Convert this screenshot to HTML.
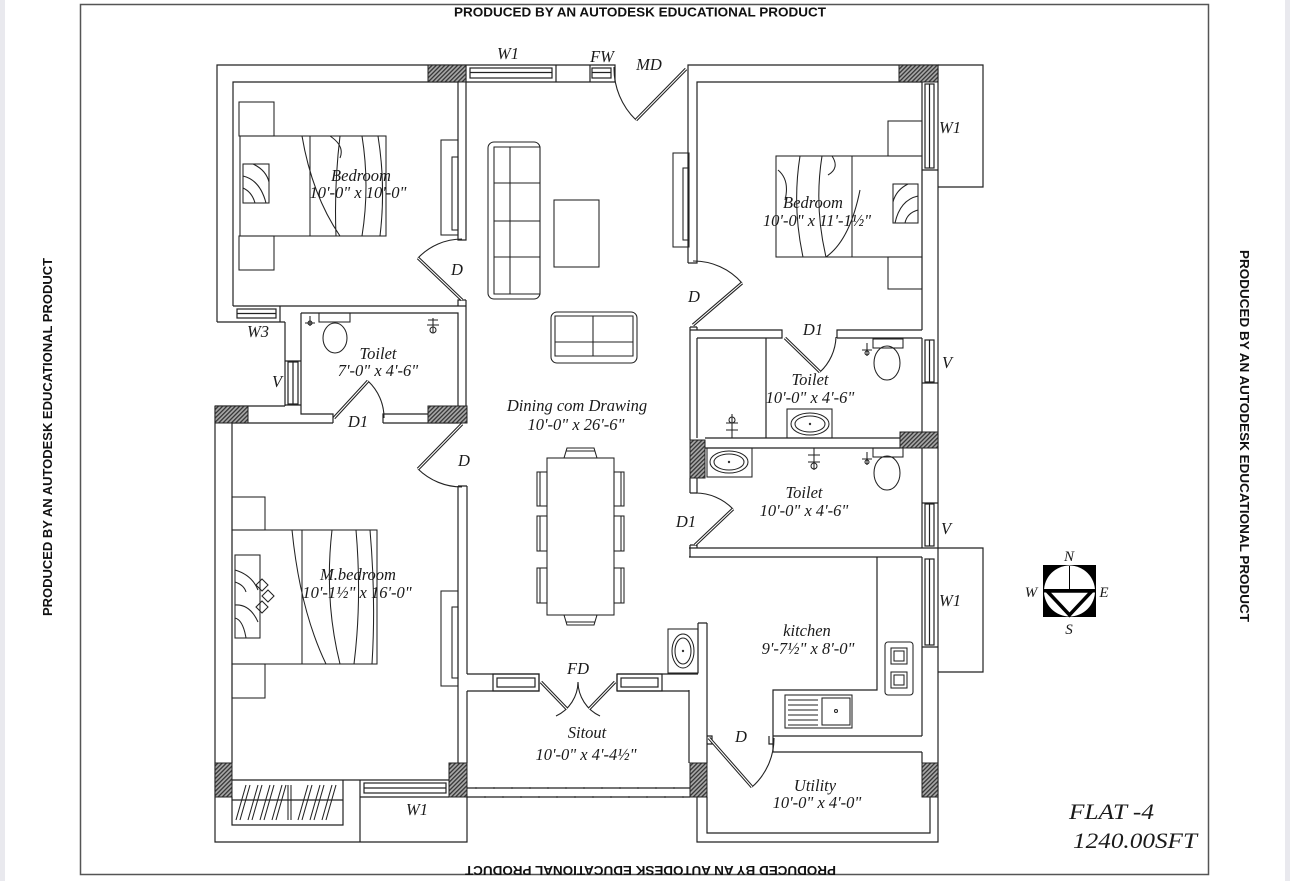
<!DOCTYPE html>
<html><head><meta charset="utf-8"><style>
html,body{margin:0;padding:0;background:#fff;}
svg{display:block;}
.t{font-family:"Liberation Serif",serif;font-style:italic;font-size:16.5px;fill:#1a1a1a;}
.s{font-family:"Liberation Sans",sans-serif;font-weight:bold;font-size:13px;fill:#111;}
</style></head><body>
<svg width="1290" height="881" viewBox="0 0 1290 881" xmlns="http://www.w3.org/2000/svg">
<defs>
<pattern id="h" patternUnits="userSpaceOnUse" width="3" height="3" patternTransform="rotate(45)">
<rect width="3" height="3" fill="#a8a8a8"/><line x1="0.7" y1="0" x2="0.7" y2="3" stroke="#2a2a2a" stroke-width="1.2"/>
</pattern>
</defs>
<rect width="1290" height="881" fill="#fff"/>
<rect x="0" y="0" width="5" height="881" fill="#e9e9ee"/>
<rect x="1285" y="0" width="5" height="881" fill="#e9e9ee"/>
<rect x="80.5" y="4.5" width="1128" height="870" fill="none" stroke="#555" stroke-width="1.5"/>

<g stroke="#222" stroke-width="1.2" fill="none">
<path d="M217,322V65H615V82"/>
<path d="M233,306V82H458V240H466V82H615"/>
<path d="M458,306V300H466"/>
<path d="M466,300V406"/>
<path d="M233,306H466"/>
<rect x="470" y="68" width="82" height="10"/><path d="M470,72.5H552M466,65V82M556,65V82"/>
<rect x="592" y="68" width="19" height="10"/><path d="M592,72.5H611M590,65V82"/>
<rect x="237" y="309" width="39" height="9"/><path d="M237,313.5H276M280,306V322M217,322H285"/>
<path d="M285,322V406"/>
<path d="M301,313V414H333V423M383,423V414H428"/>
<path d="M301,313H458V406"/>
<rect x="288" y="362" width="10" height="42"/><path d="M293,362V404M285,361H301M285,405H301"/>
<path d="M215,406H285"/>
<path d="M232,423H333M383,423H458"/>
<path d="M215,406V842H467V797"/>
<path d="M232,423V763"/>
<path d="M458,486V763M467,486V674M458,486H467"/>
<path d="M467,691V763"/>
<path d="M232,797V825H343V780M232,780H449M232,800H343"/>
<rect x="364" y="783" width="82" height="10"/><path d="M364,788H446M360,797H449M360,780V842"/>
<path d="M467,674H539V691H467M617,674H698M617,691H689M617,674V691"/>
<rect x="493" y="674" width="46" height="17"/><rect x="497" y="678" width="38" height="9"/>
<rect x="617" y="674" width="45" height="17"/><rect x="621" y="678" width="37" height="9"/>
<path d="M467,788H690M467,797H690"/>
<path d="M688,263V65H938V797"/>
<path d="M688,263H697V82H922V330"/>
<path d="M690,327H697M690,327V440M697,327V330"/>
<path d="M690,330H782V338H697M837,338V330H922M837,338H922"/>
<path d="M697,338V438M922,338V438M766,338V438"/>
<path d="M705,438H900M705,448H900"/>
<path d="M697,478V493M690,478V493M690,493H697M690,545H697M690,545V557M697,545V548"/>
<path d="M922,448V548M689,548H938M689,557H922"/>
<path d="M922,557V736M877,557V690H773V752M773,736H922M773,752H922M922,752V763"/>
<path d="M707,623V763M698,623V673M698,623H707M689,690V763"/>
<path d="M707,736H712V744H707M773,744H769V736"/>
<path d="M697,797V842H938V797M707,797V833H930V797"/>
<path d="M938,65H983V187H938M938,548H983V672H938"/>
<rect x="925" y="84" width="9" height="84"/><path d="M929.5,84V168M922,170H938"/>
<rect x="925" y="340" width="9" height="42"/><path d="M929.5,340V382M922,383H938"/>
<rect x="925" y="504" width="9" height="42"/><path d="M929.5,504V546M922,503H938"/>
<rect x="925" y="559" width="9" height="86"/><path d="M929.5,559V645M922,647H938"/>
</g>

<g fill="url(#h)" stroke="#222" stroke-width="1">
<rect x="428" y="65" width="38" height="17"/>
<rect x="899" y="65" width="39" height="17"/>
<rect x="215" y="406" width="33" height="17"/>
<rect x="428" y="406" width="39" height="17"/>
<rect x="900" y="432" width="38" height="16"/>
<rect x="690" y="440" width="15" height="38"/>
<rect x="215" y="763" width="17" height="34"/>
<rect x="449" y="763" width="18" height="34"/>
<rect x="690" y="763" width="17" height="34"/>
<rect x="922" y="763" width="16" height="34"/>
</g>

<g fill="#444">
<circle cx="476" cy="788" r="1"/><circle cx="485" cy="797" r="1"/><circle cx="494" cy="788" r="1"/><circle cx="503" cy="797" r="1"/><circle cx="512" cy="788" r="1"/><circle cx="521" cy="797" r="1"/><circle cx="530" cy="788" r="1"/><circle cx="539" cy="797" r="1"/><circle cx="548" cy="788" r="1"/><circle cx="557" cy="797" r="1"/><circle cx="566" cy="788" r="1"/><circle cx="575" cy="797" r="1"/><circle cx="584" cy="788" r="1"/><circle cx="593" cy="797" r="1"/><circle cx="602" cy="788" r="1"/><circle cx="611" cy="797" r="1"/><circle cx="620" cy="788" r="1"/><circle cx="629" cy="797" r="1"/><circle cx="638" cy="788" r="1"/><circle cx="647" cy="797" r="1"/><circle cx="656" cy="788" r="1"/><circle cx="665" cy="797" r="1"/><circle cx="674" cy="788" r="1"/><circle cx="683" cy="797" r="1"/>
</g>

<g fill="none" stroke="#222" stroke-width="1.1">
<path d="M636,120A72,72 0 0 1 614,67"/>
<path d="M418,258A61,61 0 0 1 462,239"/>
<path d="M742,283A64,64 0 0 0 693,261"/>
<path d="M820,372A50,50 0 0 0 836,337"/>
<path d="M368,381A50,50 0 0 1 384,418"/>
<path d="M418,469A63,63 0 0 0 462,487"/>
<path d="M578,682A38,38 0 0 1 556,716"/>
<path d="M578,682A38,38 0 0 0 600,716"/>
<path d="M752,787A65,65 0 0 0 774,738"/>
<path d="M733,509A52,52 0 0 0 695,493"/>
</g>
<g stroke="#222" stroke-width="3.2" stroke-linecap="butt">
<line x1="686" y1="69" x2="636" y2="120"/>
<line x1="462" y1="300" x2="418" y2="258"/>
<line x1="693" y1="325" x2="742" y2="283"/>
<line x1="785" y1="338" x2="820" y2="372"/>
<line x1="334" y1="418" x2="368" y2="381"/>
<line x1="462" y1="424" x2="418" y2="469"/>
<line x1="541" y1="682" x2="567" y2="709"/>
<line x1="615" y1="682" x2="589" y2="709"/>
<line x1="709" y1="738" x2="752" y2="787"/>
<line x1="695" y1="545" x2="733" y2="509"/>
</g>
<g stroke="#fff" stroke-width="1.1">
<line x1="686" y1="69" x2="636" y2="120"/>
<line x1="462" y1="300" x2="418" y2="258"/>
<line x1="693" y1="325" x2="742" y2="283"/>
<line x1="785" y1="338" x2="820" y2="372"/>
<line x1="334" y1="418" x2="368" y2="381"/>
<line x1="462" y1="424" x2="418" y2="469"/>
<line x1="541" y1="682" x2="567" y2="709"/>
<line x1="615" y1="682" x2="589" y2="709"/>
<line x1="709" y1="738" x2="752" y2="787"/>
<line x1="695" y1="545" x2="733" y2="509"/>
</g>

<g fill="none" stroke="#222" stroke-width="1.05">
<rect x="239" y="102" width="35" height="34"/><rect x="239" y="236" width="35" height="34"/>
<rect x="240" y="136" width="146" height="100"/>
<rect x="243" y="164" width="26" height="39"/>
<path d="M243,176Q260,180 266,203M243,188Q252,192 255,203M253,164Q266,170 269,182"/>
<line x1="310" y1="136" x2="310" y2="236"/>
<path d="M302,136Q312,195 340,236M340,136Q334,186 336,236M362,136Q370,186 362,236M378,136Q386,186 380,236M330,136Q345,146 340,158"/>
<rect x="441" y="140" width="17" height="95"/><rect x="452" y="157" width="6" height="73"/>
<rect x="488" y="142" width="52" height="157" rx="6"/>
<path d="M494,147H540V294H494ZM510,147V294M494,183H540M494,221H540M494,257H540"/>
<rect x="554" y="200" width="45" height="67"/>
<rect x="551" y="312" width="86" height="51" rx="6"/>
<path d="M555,316H633V356H555ZM593,316V356M555,342H633"/>
<rect x="673" y="153" width="16" height="94"/><rect x="683" y="168" width="6" height="72"/>
<rect x="547" y="458" width="67" height="157"/>
<rect x="537" y="472" width="10" height="34"/><path d="M540,472V506"/>
<rect x="537" y="516" width="10" height="35"/><path d="M540,516V551"/>
<rect x="537" y="568" width="10" height="35"/><path d="M540,568V603"/>
<rect x="614" y="472" width="10" height="34"/><path d="M621,472V506"/>
<rect x="614" y="516" width="10" height="35"/><path d="M621,516V551"/>
<rect x="614" y="568" width="10" height="35"/><path d="M621,568V603"/>
<path d="M564,458L567,448H594L597,458M566,451H595"/>
<path d="M564,615L567,625H594L597,615M566,622H595"/>
<rect x="888" y="121" width="34" height="35"/><rect x="888" y="257" width="34" height="32"/>
<rect x="776" y="156" width="146" height="101"/>
<rect x="893" y="184" width="25" height="39"/>
<path d="M918,196Q900,200 895,223M918,210Q907,213 905,223M908,184Q896,190 893,202"/>
<line x1="852" y1="156" x2="852" y2="257"/>
<path d="M800,156Q792,206 803,257M822,156Q814,206 826,257M860,190Q850,240 826,257M778,170Q790,180 785,200M832,156Q840,168 828,175"/>
<rect x="232" y="497" width="33" height="33"/><rect x="232" y="664" width="33" height="34"/>
<rect x="232" y="530" width="145" height="134"/>
<rect x="235" y="555" width="25" height="83"/>
<path d="M235,570Q252,575 258,590M235,582Q244,585 246,592M235,605Q250,604 258,622M235,618Q243,620 246,638"/>
<path d="M256,585l6,-6l6,6l-6,6zM262,596l6,-6l6,6l-6,6zM256,607l6,-6l6,6l-6,6z"/>
<line x1="302" y1="530" x2="302" y2="664"/>
<path d="M292,530Q300,610 326,664M332,530Q324,600 340,664M356,530Q362,600 354,664M370,530Q376,600 372,664"/>
<rect x="441" y="591" width="17" height="95"/><rect x="452" y="607" width="6" height="71"/>
<path d="M236,820L246,785M240,820L250,785M248,820L258,785M252,820L262,785M260,820L270,785M264,820L274,785M272,820L282,785M276,820L286,785M288,820L288,785M291,820L291,785M298,820L308,785M302,820L312,785M310,820L320,785M314,820L324,785M322,820L332,785M326,820L336,785"/>
<rect x="319" y="313" width="31" height="9"/>
<ellipse cx="335" cy="338" rx="12" ry="15"/>
<path d="M310,316V326M305,323H315"/><circle cx="310" cy="323" r="2"/>
<path d="M433,318V333M427,325H439M428,320H438"/><circle cx="433" cy="330" r="3"/>
<rect x="873" y="339" width="30" height="9"/>
<ellipse cx="887" cy="363" rx="13" ry="17"/>
<path d="M867,343V356M862,350H872"/><circle cx="867" cy="353" r="2"/>
<rect x="787" y="409" width="45" height="29"/><ellipse cx="810" cy="424" rx="19" ry="11"/><ellipse cx="810" cy="424" rx="15" ry="8"/>
<path d="M732,414V438M726,423H738M726,430H738"/><circle cx="732" cy="420" r="3"/>
<rect x="707" y="448" width="45" height="29"/><ellipse cx="729" cy="462" rx="19" ry="11"/><ellipse cx="729" cy="462" rx="15" ry="8"/>
<rect x="873" y="448" width="30" height="9"/>
<ellipse cx="887" cy="473" rx="13" ry="17"/>
<path d="M867,452V465M862,459H872"/><circle cx="867" cy="462" r="2"/>
<path d="M814,448V470M808,455H820M808,462H820"/><circle cx="814" cy="466" r="3"/>
<rect x="668" y="629" width="30" height="44"/><ellipse cx="683" cy="651" rx="11" ry="17"/><ellipse cx="683" cy="651" rx="8" ry="13"/>
<rect x="885" y="642" width="28" height="53" rx="3"/>
<rect x="891" y="648" width="16" height="16"/><rect x="894" y="651" width="10" height="10"/>
<rect x="891" y="672" width="16" height="16"/><rect x="894" y="675" width="10" height="10"/>
<rect x="785" y="695" width="67" height="33"/><rect x="822" y="698" width="28" height="27"/>
<path d="M788,700H818M788,705H818M788,710H818M788,715H818M788,720H818M788,725H818"/>
<circle cx="836" cy="711" r="1.5"/>
</g>
<g fill="#333"><circle cx="683" cy="651" r="1.2"/><circle cx="810" cy="424" r="1.2"/><circle cx="729" cy="462" r="1.2"/></g>

<rect x="1043" y="565" width="53" height="52" fill="#000"/>
<circle cx="1069.5" cy="591" r="25.5" fill="#fff"/>
<line x1="1069.5" y1="566" x2="1069.5" y2="590" stroke="#000" stroke-width="1"/>
<rect x="1043" y="589" width="53" height="3.5" fill="#000"/>
<path d="M1047,591L1092,591L1069.5,615Z" fill="#fff" stroke="#000" stroke-width="3.5"/>

<g class="t" text-anchor="middle">
<text x="508" y="59">W1</text>
<text x="602" y="62">FW</text>
<text x="649" y="70">MD</text>
<text x="361" y="181">Bedroom</text>
<text x="358" y="198">10'-0" x 10'-0"</text>
<text x="457" y="275">D</text>
<text x="258" y="337">W3</text>
<text x="378" y="359">Toilet</text>
<text x="378" y="376">7'-0" x 4'-6"</text>
<text x="277" y="387">V</text>
<text x="358" y="427">D1</text>
<text x="577" y="411">Dining com Drawing</text>
<text x="576" y="430">10'-0" x 26'-6"</text>
<text x="464" y="466">D</text>
<text x="358" y="580">M.bedroom</text>
<text x="357" y="598">10'-1½" x 16'-0"</text>
<text x="578" y="674">FD</text>
<text x="587" y="738">Sitout</text>
<text x="586" y="760">10'-0" x 4'-4½"</text>
<text x="417" y="815">W1</text>
<text x="950" y="133">W1</text>
<text x="813" y="208">Bedroom</text>
<text x="817" y="226">10'-0" x 11'-1½"</text>
<text x="694" y="302">D</text>
<text x="813" y="335">D1</text>
<text x="947" y="368">V</text>
<text x="810" y="385">Toilet</text>
<text x="810" y="403">10'-0" x 4'-6"</text>
<text x="804" y="498">Toilet</text>
<text x="804" y="516">10'-0" x 4'-6"</text>
<text x="686" y="527">D1</text>
<text x="946" y="534">V</text>
<text x="950" y="606">W1</text>
<text x="807" y="636">kitchen</text>
<text x="808" y="654">9'-7½" x 8'-0"</text>
<text x="741" y="742">D</text>
<text x="815" y="791">Utility</text>
<text x="817" y="808">10'-0" x 4'-0"</text>
<text x="1069" y="561" style="font-size:15px">N</text>
<text x="1069" y="634" style="font-size:15px">S</text>
<text x="1031" y="597" style="font-size:15px">W</text>
<text x="1104" y="597" style="font-size:15px">E</text>
</g>
<text class="t" x="1069" y="819" style="font-size:22px" textLength="85" lengthAdjust="spacingAndGlyphs">FLAT -4</text>
<text class="t" x="1073" y="848" style="font-size:22px" textLength="124" lengthAdjust="spacingAndGlyphs">1240.00SFT</text>

<text class="s" x="640" y="16.5" text-anchor="middle" textLength="372" lengthAdjust="spacingAndGlyphs">PRODUCED BY AN AUTODESK EDUCATIONAL PRODUCT</text>
<text class="s" x="650.5" y="875" text-anchor="middle" transform="rotate(180 650.5 870.5)" textLength="371" lengthAdjust="spacingAndGlyphs">PRODUCED BY AN AUTODESK EDUCATIONAL PRODUCT</text>
<text class="s" text-anchor="middle" transform="translate(52,437) rotate(-90)" textLength="358" lengthAdjust="spacingAndGlyphs">PRODUCED BY AN AUTODESK EDUCATIONAL PRODUCT</text>
<text class="s" text-anchor="middle" transform="translate(1240,436) rotate(90)" textLength="372" lengthAdjust="spacingAndGlyphs">PRODUCED BY AN AUTODESK EDUCATIONAL PRODUCT</text>
</svg>
</body></html>
